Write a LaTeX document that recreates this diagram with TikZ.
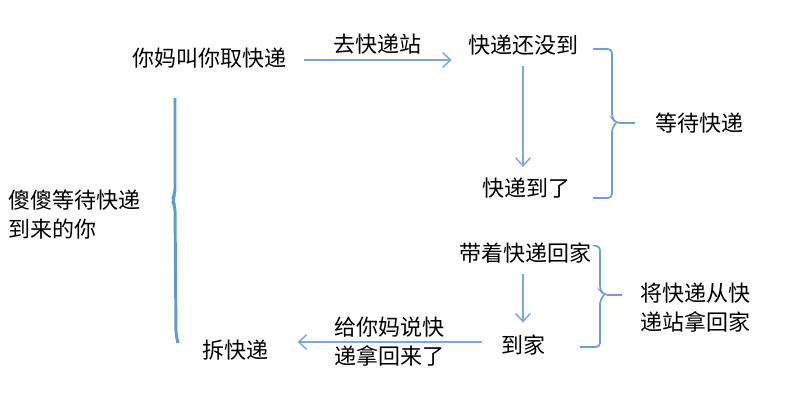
\documentclass[tikz,border=0pt]{standalone}
\usepackage{fontspec}
\setmainfont{Noto Sans CJK SC}
\usepackage{xcolor}
\definecolor{flowln}{HTML}{7EA8D9}
\definecolor{bracln}{HTML}{6C9FD6}
\definecolor{bigbrac}{HTML}{5B9BD5}
\usepackage{tikz}
\usetikzlibrary{arrows.meta,positioning,calc}

\tikzset{
  txt/.style={inner sep=0pt,font=\fontsize{16.5}{21.75}\selectfont},
  flow/.style={draw=flowln,line width=1.1pt,-{Straight Barb[length=6pt,width=11pt]}},
  brac/.style={draw=bracln,line width=1.3pt,rounded corners=3pt}
}

\begin{document}
\begin{tikzpicture}[x=0.75pt,y=-0.75pt]
\useasboundingbox (0,0) rectangle (807,403);
% steps
\node[txt] (mom)   at (209,58)  {你妈叫你取快递};
\node[txt] (notyet) at (523,45) {快递还没到};
\node[txt] (arrived) at (526,188) {快递到了};
\node[txt] (carry) at (525,253) {带着快递回家};
\node[txt] (home)  at (523,345) {到家};
\node[txt] (open)  at (235,350) {拆快递};
% groups
\node[txt] (wait)  at (699,123) {等待快递};
\node[txt,align=left] (fetch) at (695,308) {将快递从快\\递站拿回家};
\node[txt,align=left,anchor=west] (you) at (8,215) {傻傻等待快递\\到来的你};
% arrows
\draw[flow,shorten <=13pt,shorten >=12pt] ($(mom.east)+(0,2)$) -- ($(mom.east -| notyet.west)+(0,2)$)
  node[txt,midway,above=4pt] (gostation) {去快递站};
\draw[flow,shorten <=8pt,shorten >=8pt] (notyet.south) -- (notyet.south |- arrived.north);
\draw[flow,shorten <=8pt,shorten >=9pt] (home.south |- carry.south) -- (home.north);
\draw[flow,shorten <=14pt,shorten >=22pt] ($(home.west)+(0,-3)$) -- ($(open.east)+(0,-8)$)
  node[txt,align=left,pos=0.48] (tell) {给你妈说快\\递拿回来了};
% braces
\draw[brac] (593,49) -| (612,118) -- (616,123) -- (635,123);
\draw[brac] (616,123) -- (612,128) |- (593,198);
\draw[brac] (597,246) -| (600,290) -- (604,295) -- (622,295);
\draw[brac] (604,295) -- (600,300) |- (580,347);
\draw[bigbrac,line width=2.2pt,rounded corners=4pt] (175,98) -- (175,194) -- (172,200) -- (175,206) -- (176,335) -- (178,343);
\end{tikzpicture}
\end{document}
